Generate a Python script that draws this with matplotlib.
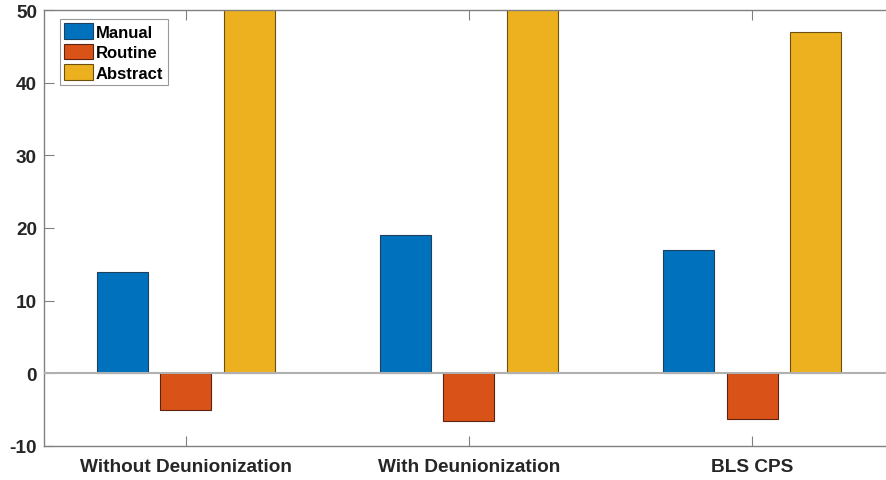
import numpy as np
import matplotlib
matplotlib.use('Agg')
import matplotlib.pyplot as plt

categories = ['Without Deunionization', 'With Deunionization', 'BLS CPS']
series_names = ['Manual', 'Routine', 'Abstract']
manual = [14, 19, 17]
routine = [-5, -6.5, -6.3]
abstract = [56, 58, 47]  # first two run past the top of the axis

colors = ['#0072BD', '#D95319', '#EDB120']
edges = ['#1f3f5f', '#5a2410', '#6b5010']

plt.rcParams['font.family'] = ['Liberation Sans', 'DejaVu Sans']
plt.rcParams['font.weight'] = 'bold'
plt.rcParams['axes.unicode_minus'] = False

fig = plt.figure(figsize=(8.87, 4.81), dpi=100)
ax = fig.add_axes([44 / 887, 34 / 481, 850 / 887, 436 / 481])

x = np.arange(1, len(categories) + 1)
width = 0.18
offsets = [-0.224, 0, 0.224]
for vals, name, c, ec, off in zip([manual, routine, abstract], series_names, colors, edges, offsets):
    ax.bar(x + off, vals, width, color=c, edgecolor=ec, linewidth=0.8, label=name, zorder=2)

# baseline at zero
ax.axhline(0, color='#b0b0b0', linewidth=1.5, zorder=3)

ax.set_xlim(0.5, 3.5)
ax.set_ylim(-10, 50)
ax.set_yticks(range(-10, 51, 10))
ax.set_xticks(x)
ax.set_xticklabels(categories)

for s in ax.spines.values():
    s.set_color('#808080')
    s.set_linewidth(1.0)
ax.tick_params(direction='in', length=7, color='#808080', labelsize=13.7,
               labelcolor='#262626', top=True, right=False)
ax.tick_params(axis='x', pad=9)
ax.tick_params(axis='y', pad=5)
for lbl in ax.get_xticklabels() + ax.get_yticklabels():
    lbl.set_fontweight('bold')

leg = ax.legend(loc='upper left', bbox_to_anchor=(16 / 850, 1 - 9 / 436), fontsize=12.0,
                frameon=True, fancybox=False, handlelength=1.75, handleheight=1.05,
                handletextpad=0.15, borderpad=0.25, labelspacing=0.25, borderaxespad=0.0)
leg.get_frame().set_edgecolor('#808080')
leg.get_frame().set_linewidth(0.8)
for t in leg.get_texts():
    t.set_fontweight('bold')

fig.savefig('out.png', dpi=100)
